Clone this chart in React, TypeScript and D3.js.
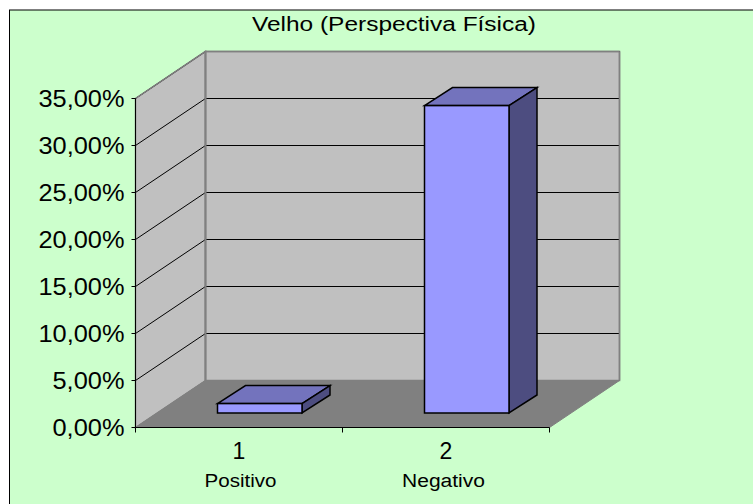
import React from "react";
import * as d3 from "d3";

const title = "Velho (Perspectiva Física)";
const categories = ["1", "2"];
const categoryNames = ["Positivo", "Negativo"];
const values = [1, 32.7];
const yTicks = [0, 5, 10, 15, 20, 25, 30, 35];
const yTickLabels = ["0,00%", "5,00%", "10,00%", "15,00%", "20,00%", "25,00%", "30,00%", "35,00%"];

const W = 753, H = 504;
const x0 = 135.5, x1 = 549.5, y0 = 427.5, y35 = 98.5;
const DX = 70, DY = -47;
const y = d3.scaleLinear().domain([0, 35]).range([y0, y35]);
const x = d3.scaleBand<string>().domain(categories).range([x0, x1]);
const font = "'Liberation Sans', Arial, sans-serif";
const poly = (p: [number, number][]) => d3.line()(p) + "Z";

export default function App() {
  const tb = y(35) + DY;
  const barW = 84.5;
  const barDX = 28, barDY = -18;
  const baseShiftX = 21, baseShiftY = -14.5;
  return (
    <svg width={W} height={H} style={{ position: "absolute", left: 0, top: 0 }}>
      <rect x={0} y={0} width={W} height={H} fill="#ffffff" />
      <rect x={9.5} y={10} width={W} height={H} fill="#ccffcc" stroke="#000" strokeWidth={1} />
      <text x={394} y={30.5} textAnchor="middle" fontFamily={font} fontSize={20} textLength={284} lengthAdjust="spacingAndGlyphs" fill="#000">{title}</text>

      {/* walls */}
      <path d={poly([[x0, y(35)], [x0 + DX, tb], [x0 + DX, y0 + DY], [x0, y0]])} fill="#c0c0c0" stroke="#808080" strokeWidth={1.5} />
      <path d={poly([[x0 + DX, tb], [x1 + DX, tb], [x1 + DX, y0 + DY], [x0 + DX, y0 + DY]])} fill="#c0c0c0" stroke="#808080" strokeWidth={1.5} />
      <path d={poly([[x0, y0], [x0 + DX, y0 + DY], [x1 + DX, y0 + DY], [x1, y0]])} fill="#808080" stroke="#808080" />

      {/* gridlines */}
      {yTicks.slice(1).map((t) => (
        <g key={t}>
          <path d={`M${x0},${y(t)}L${x0 + DX},${y(t) + DY}`} stroke="#000" fill="none" strokeWidth={1} />
          <path d={`M${x0 + DX},${y(t) + DY}L${x1 + DX},${y(t) + DY}`} stroke="#000" fill="none" strokeWidth={1} />
        </g>
      ))}
      {/* redraw top edges over grid */}
      <path d={`M${x0},${y(35)}L${x0 + DX},${tb}L${x1 + DX},${tb}`} stroke="#808080" fill="none" strokeWidth={1.5} />
      <path d={`M${x0 + DX},${tb}V${y0 + DY}`} stroke="#808080" fill="none" strokeWidth={2} />
      <path d={`M${x1 + DX},${tb}V${y0 + DY}`} stroke="#808080" fill="none" strokeWidth={1.5} />

      {/* bars */}
      {values.map((v, i) => {
        const c = categories[i];
        const left = x(c)! + (x.bandwidth() - barW) / 2 + baseShiftX - 0.25;
        const r = left + barW;
        const b = y(0) + baseShiftY;
        const t = b - (y(0) - y(v));
        return (
          <g key={c} stroke="#000" strokeWidth={1.5} strokeLinejoin="miter">
            <path d={poly([[left, t], [left + barDX, t + barDY], [r + barDX, t + barDY], [r, t]])} fill="#7373bd" />
            <path d={poly([[r, t], [r + barDX, t + barDY], [r + barDX, b + barDY], [r, b]])} fill="#4d4d80" />
            <rect x={left} y={t} width={barW} height={b - t} fill="#9999ff" />
          </g>
        );
      })}

      {/* axes */}
      <path d={`M${x0},${y(35)}V${y0}H${x1}`} stroke="#000" fill="none" strokeWidth={1} />
      {yTicks.map((t, i) => (
        <g key={t}>
          <path d={`M${x0 - 4},${y(t)}H${x0}`} stroke="#000" />
          <text x={124.5} y={y(t) + 8} textAnchor="end" fontFamily={font} fontSize={23} textLength={yTickLabels[i].length === 6 ? 86 : 72} lengthAdjust="spacingAndGlyphs" fill="#000">{yTickLabels[i]}</text>
        </g>
      ))}
      {[x0, x0 + x.bandwidth(), x1].map((p) => (
        <path key={p} d={`M${p},${y0}V${y0 + 5}`} stroke="#000" />
      ))}
      {categories.map((c, i) => (
        <g key={c} fontFamily={font} fill="#000" textAnchor="middle">
          <text x={i === 0 ? 239 : 446} y={458.5} fontSize={23}>{c}</text>
          <text x={i === 0 ? 240.5 : 443.5} y={486.5} fontSize={18} textLength={i === 0 ? 72 : 83} lengthAdjust="spacingAndGlyphs">{categoryNames[i]}</text>
        </g>
      ))}
    </svg>
  );
}
